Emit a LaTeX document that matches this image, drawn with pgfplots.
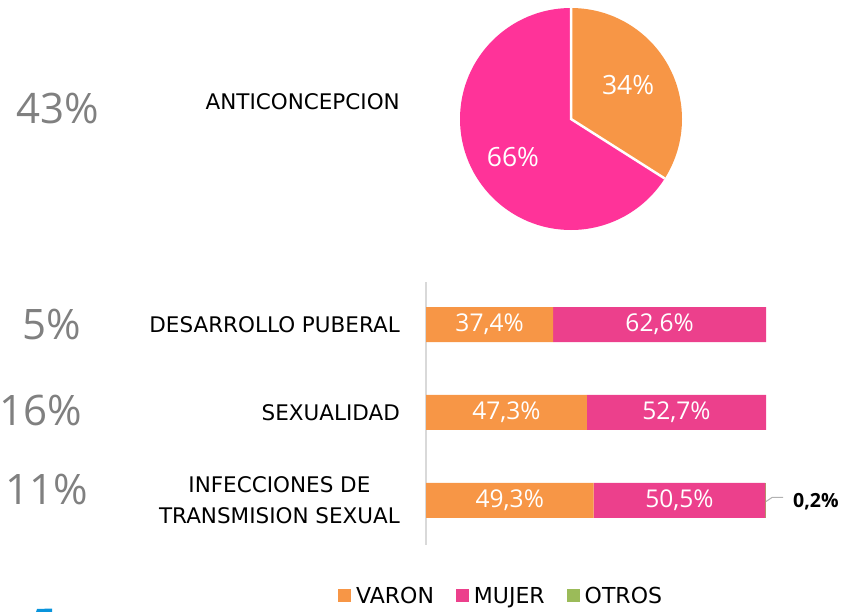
\documentclass[border=0pt]{standalone}
\usepackage{pgfplots}
\pgfplotsset{compat=1.18}
\usepackage{fontspec}
\setmainfont{DejaVu Sans}
\newfontfamily\numfont{Open Sans}
\definecolor{varon}{RGB}{247,150,70}
\definecolor{mujer}{RGB}{236,64,140}
\definecolor{mujerpie}{RGB}{255,51,153}
\definecolor{otros}{RGB}{155,187,89}
\definecolor{pctgray}{RGB}{128,128,128}
\definecolor{axisgray}{RGB}{217,217,217}

\pgfplotsset{barbox/.style={
    at={(426pt,-545pt)}, anchor=south west,
    scale only axis, width=340pt, height=263pt,
    xmin=0, xmax=100, ymin=-0.483, ymax=2.506, y dir=reverse, clip=false}}

\begin{document}
\begin{tikzpicture}
\useasboundingbox (0,0) rectangle (843pt,-612pt);

% shares of each topic, left column
\tikzset{share/.style={font=\numfont\fontsize{42}{48}\selectfont, text=pctgray, inner sep=0pt}}
\node[share] at (58pt,-109pt) {43\%};
\node[share] at (51.5pt,-324pt) {5\%};
\node[share] at (40.5pt,-410pt) {16\%};
\node[share] at (46.5pt,-489pt) {11\%};

\node[anchor=east, inner sep=0pt, font=\fontsize{21.5}{25}\selectfont] at (400pt,-102pt) {ANTICONCEPCION};

% pie: anticoncepcion
\begin{axis}[
    at={(571pt,-119pt)}, anchor=center,
    scale only axis, width=222pt, height=222pt,
    hide axis, clip=false,
    xmin=-1, xmax=1, ymin=-1, ymax=1,
]
\pgfmathsetmacro{\va}{34}
\pgfmathsetmacro{\mu}{66}
\fill[mujerpie] (axis cs:0,0) -- (axis cs:0,1) arc[start angle=90, end angle={90+3.6*\mu}, radius=111pt] -- cycle;
\fill[varon] (axis cs:0,0) -- (axis cs:0,1) arc[start angle=90, end angle={90-3.6*\va}, radius=111pt] -- cycle;
\draw[white, line width=2.5pt] (axis cs:0,1) -- (axis cs:0,0) -- (axis cs:{cos(90-3.6*\va)},{sin(90-3.6*\va)});
\node[font=\numfont\fontsize{26.5}{30}\selectfont, text=white] at (axis cs:0.514,0.306) {34\%};
\node[font=\numfont\fontsize{26.5}{30}\selectfont, text=white] at (axis cs:-0.523,-0.342) {66\%};
\end{axis}

% stacked bars
\begin{axis}[
    barbox,
    xbar stacked, bar width=35pt,
    axis x line=none, axis y line*=left,
    y axis line style={draw=axisgray, line width=1.2pt, -},
    ytick={0,1,2},
    yticklabels={DESARROLLO PUBERAL, SEXUALIDAD, {INFECCIONES DE\\TRANSMISION SEXUAL}},
    major tick length=0pt,
    yticklabel style={font=\fontsize{21.5}{31}\selectfont, align=center, inner sep=0pt, xshift=-26pt},
    legend columns=3,
    legend style={at={(0.218,-0.193)}, anchor=center, draw=none, fill=none,
        font=\fontsize{22}{26}\selectfont, nodes={inner sep=0pt},
        /tikz/every odd column/.append style={column sep=5pt},
        /tikz/every even column/.append style={column sep=22pt}},
    legend image code/.code={\fill[#1] (0pt,-6.5pt) rectangle (13pt,6.5pt);},
]
\addplot[fill=varon, draw=none] coordinates {(37.4,0) (47.3,1) (49.3,2)};
\addplot[fill=mujer, draw=none] coordinates {(62.6,0) (52.7,1) (50.5,2)};
\addplot[fill=otros, draw=none] coordinates {(0,0) (0,1) (0.2,2)};
\legend{VARON, MUJER, OTROS}
\end{axis}

% data labels, drawn over the bars
\begin{axis}[barbox, hide axis]
\tikzset{lbl/.style={font=\numfont\fontsize{24.5}{28}\selectfont, text=white}}
\node[lbl] at (axis cs:18.7,0) {37,4\%};
\node[lbl] at (axis cs:68.7,0) {62,6\%};
\node[lbl] at (axis cs:23.65,1) {47,3\%};
\node[lbl] at (axis cs:73.65,1) {52,7\%};
\node[lbl] at (axis cs:24.65,2) {49,3\%};
\node[lbl] at (axis cs:74.55,2) {50,5\%};
\draw[gray!60, line width=1pt] (axis cs:100,2) ++(0pt,-1pt) -- ++(6pt,4pt) -- ++(11pt,0pt);
\node[anchor=west, inner sep=0pt, font=\numfont\bfseries\fontsize{19.5}{22}\selectfont] at (axis cs:100,2) [xshift=27pt, yshift=-1pt] {0,2\%};
\end{axis}

\fill[cyan!80!blue] (37pt,-609pt) -- (52pt,-608.5pt) -- (52pt,-612pt) -- (36pt,-612pt) -- cycle;
\end{tikzpicture}
\end{document}
